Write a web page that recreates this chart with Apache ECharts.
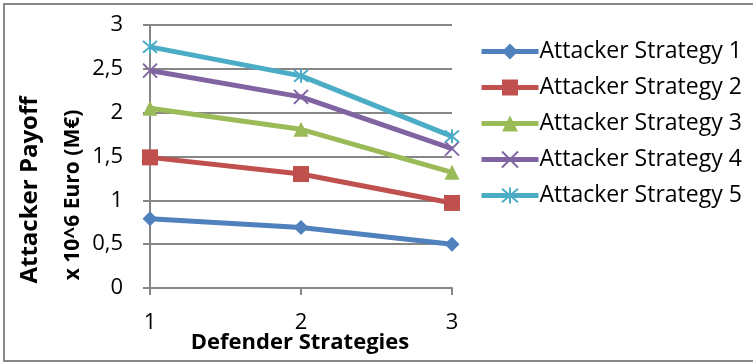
<!DOCTYPE html>
<html>
<head>
<meta charset="utf-8">
<script src="https://cdn.jsdelivr.net/npm/echarts@6/dist/echarts.min.js"></script>
<style>
  html, body { margin: 0; padding: 0; background: #fff; }
  #chart { width: 753px; height: 363px; }
</style>
</head>
<body>
<div id="chart"></div>
<script>
// Defender strategies on the x axis
const categories = ['1', '2', '3'];
// Attacker payoff (M€) for each attacker strategy
const strategy1 = [0.79, 0.69, 0.50];
const strategy2 = [1.49, 1.30, 0.97];
const strategy3 = [2.05, 1.81, 1.32];
const strategy4 = [2.48, 2.18, 1.59];
const strategy5 = [2.75, 2.42, 1.73];
const seriesNames = ['Attacker Strategy 1', 'Attacker Strategy 2', 'Attacker Strategy 3', 'Attacker Strategy 4', 'Attacker Strategy 5'];
const yTicks = [0, 0.5, 1, 1.5, 2, 2.5, 3];

const FONT = 'Open Sans, Lato, sans-serif';
const colors = ['#4F81BD', '#C0504D', '#9BBB59', '#8064A2', '#4BACC6'];
const xSymbol = 'path://M0,0L10,10M10,0L0,10';
const starSymbol = 'path://M0,0L10,10M10,0L0,10M5,-1L5,11';

function makeSeries(name, data, color, symbol, size, stroked) {
  const s = {
    name: name,
    type: 'line',
    data: data,
    symbol: symbol,
    symbolSize: size,
    lineStyle: { color: color, width: 5 },
    itemStyle: { color: stroked ? 'rgba(0,0,0,0)' : color },
    emphasis: { disabled: true }
  };
  if (stroked) {
    s.itemStyle.borderColor = color;
    s.itemStyle.borderWidth = 2;
  }
  return s;
}

const chart = echarts.init(document.getElementById('chart'));
chart.setOption({
  animation: false,
  color: colors,
  grid: { left: 150, right: 301, top: 25, bottom: 75, containLabel: false },
  xAxis: {
    type: 'category',
    data: categories,
    boundaryGap: false,
    axisLine: { lineStyle: { color: '#868686', width: 2 } },
    axisTick: { show: true, length: 7, alignWithLabel: true, lineStyle: { color: '#868686', width: 2 } },
    axisLabel: { color: '#000', fontFamily: FONT, fontSize: 22, margin: 24 },
    splitLine: { show: false }
  },
  yAxis: {
    type: 'value',
    min: 0,
    max: 3,
    interval: 0.5,
    axisLine: { show: true, lineStyle: { color: '#868686', width: 2 } },
    axisTick: { show: true, length: 7, lineStyle: { color: '#868686', width: 2 } },
    axisLabel: {
      color: '#000', fontFamily: FONT, fontSize: 22, margin: 27,
      formatter: v => yTicks.includes(v) ? String(v).replace('.', ',') : ''
    },
    splitLine: { lineStyle: { color: '#868686', width: 2 } }
  },
  legend: {
    orient: 'vertical',
    left: 474,
    top: 35,
    itemWidth: 57,
    itemHeight: 20,
    itemGap: 13,
    data: seriesNames,
    lineStyle: { width: 5 },
    textStyle: { color: '#000', fontFamily: FONT, fontSize: 23, lineHeight: 22, padding: [0, 0, 0, -4] }
  },
  graphic: [
    { type: 'rect', shape: { x: 4, y: 4, width: 760, height: 357 }, style: { fill: 'none', stroke: '#888', lineWidth: 2 }, silent: true },
    { type: 'text', x: 30, y: 190, rotation: Math.PI / 2, style: { text: 'Attacker Payoff', font: 'bold 24px ' + FONT, fill: '#000', align: 'center', verticalAlign: 'middle' } },
    { type: 'text', x: 73, y: 195, rotation: Math.PI / 2, style: { text: 'x 10^6 Euro (M€)', font: 'bold 21px ' + FONT, fill: '#000', align: 'center', verticalAlign: 'middle' } },
    { type: 'text', x: 300, y: 343, style: { text: 'Defender Strategies', font: 'bold 22px ' + FONT, fill: '#000', align: 'center', verticalAlign: 'middle' } }
  ],
  series: [
    makeSeries(seriesNames[0], strategy1, colors[0], 'diamond', 15, false),
    makeSeries(seriesNames[1], strategy2, colors[1], 'rect', 16, false),
    makeSeries(seriesNames[2], strategy3, colors[2], 'triangle', 15, false),
    makeSeries(seriesNames[3], strategy4, colors[3], xSymbol, 14, true),
    makeSeries(seriesNames[4], strategy5, colors[4], starSymbol, 14, true)
  ]
});
</script>
</body>
</html>
